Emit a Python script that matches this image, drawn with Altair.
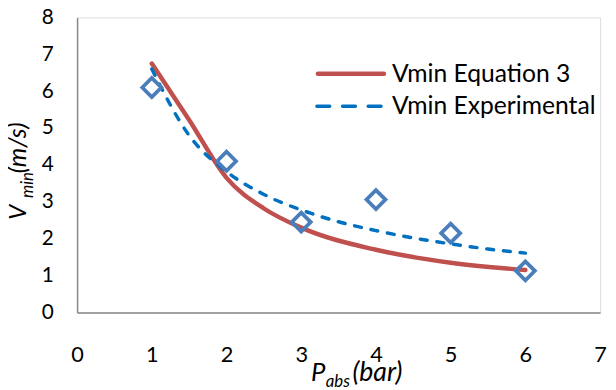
import altair as alt
import pandas as pd

# Data
eq3_p = [1, 1.5, 2, 2.5, 3, 4, 5, 6]
eq3_v = [6.75, 5.22, 3.65, 2.82, 2.3, 1.7, 1.35, 1.15]

exp_p = [1, 2, 3, 4, 5, 6]
exp_v = [6.1, 4.1, 2.45, 3.06, 2.15, 1.13]

trend_p = [1, 1.5, 2, 2.5, 3, 3.5, 4, 4.5, 5, 5.5, 6]
trend_v = [6.6, 4.8, 3.82, 3.2, 2.78, 2.46, 2.22, 2.02, 1.86, 1.72, 1.61]

x_ticks = [0, 1, 2, 3, 4, 5, 6, 7]
y_ticks = [0, 1, 2, 3, 4, 5, 6, 7, 8]

legend_labels = ["Vmin Equation 3", "Vmin Experimental"]

FONT = "Lato"
RED = "#C0504D"
BLUE_LINE = "#0070C0"
BLUE_MARK = "#4A7EBB"

W, H = 530, 299

df_eq = pd.DataFrame({"p": eq3_p, "v": eq3_v})
df_exp = pd.DataFrame({"p": exp_p, "v": exp_v})
df_tr = pd.DataFrame({"p": trend_p, "v": trend_v})

xs = alt.Scale(domain=[0, 7], nice=False, zero=False)
ys = alt.Scale(domain=[0, 8], nice=False, zero=False)

x_axis = alt.Axis(values=x_ticks, tickCount=8, format="d", title=None, grid=False,
                  ticks=False, tickSize=0,
                  labelPadding=33, labelFontSize=22, labelFont=FONT, labelColor="#000",
                  domainColor="#878787", domainWidth=1.5, labelFlush=False,
                  labelOverlap=False)
y_axis = alt.Axis(values=y_ticks, tickCount=9, format="d", title=None, grid=False,
                  ticks=False, tickSize=0,
                  labelPadding=24, labelFontSize=21, labelFont=FONT, labelColor="#000",
                  domainColor="#878787", domainWidth=1.5, labelOverlap=False,
                  labelFlush=False)

X = alt.X("p:Q", scale=xs, axis=x_axis)
Y = alt.Y("v:Q", scale=ys, axis=y_axis)

red = alt.Chart(df_eq).mark_line(color=RED, strokeWidth=4.5, interpolate="monotone",
                                 strokeCap="round").encode(x=X, y=Y)

trend = alt.Chart(df_tr).mark_line(color=BLUE_LINE, strokeWidth=3.5, strokeDash=[7, 10],
                                   interpolate="monotone", strokeCap="round").encode(x=X, y=Y)

pts = alt.Chart(df_exp).mark_point(shape="diamond", filled=False, color=BLUE_MARK,
                                   strokeWidth=3.8, size=370, opacity=1).encode(x=X, y=Y)

# Legend (manual)
leg_red = alt.Chart().mark_rule(color=RED, strokeWidth=4.5, strokeCap="round").encode(
    x=alt.value(244), x2=alt.value(311), y=alt.value(57))
leg_blue = alt.Chart().mark_rule(color=BLUE_LINE, strokeWidth=3.5, strokeDash=[13, 13],
                                 strokeCap="round").encode(
    x=alt.value(243), x2=alt.value(312), y=alt.value(90))
leg_t1 = alt.Chart().mark_text(text=legend_labels[0], align="left", baseline="middle",
                               font=FONT, fontSize=25, color="#000").encode(
    x=alt.value(319), y=alt.value(57))
leg_t2 = alt.Chart().mark_text(text=legend_labels[1], align="left", baseline="middle",
                               font=FONT, fontSize=25, color="#000").encode(
    x=alt.value(319), y=alt.value(90))

# Axis titles with subscripts
def txt(t, x, y, size, angle=0):
    return alt.Chart().mark_text(text=t, align="left", baseline="alphabetic", font=FONT,
                                 fontSize=size, fontStyle="italic", color="#000",
                                 angle=angle).encode(x=alt.value(x), y=alt.value(y))

xt1 = txt("P", 237, 368, 26)
xt2 = txt("abs", 252, 374, 17)
xt3 = txt("(bar)", 279, 368, 27)

yt1 = txt("V", -52, 205, 24, 270)
yt2 = txt("min", -45, 183, 17, 270)
yt3 = txt("(m/s)", -52, 158, 25, 270)

chart = alt.layer(red, trend, pts, leg_red, leg_blue, leg_t1, leg_t2,
                  xt1, xt2, xt3, yt1, yt2, yt3).properties(
    width=W, height=H,
    autosize=alt.AutoSizeParams(type="none"),
    padding={"left": 70, "top": 7, "right": 8, "bottom": 76},
).configure_view(stroke=None).configure(background="white")

chart.save("out.html", embed_options={"renderer": "svg", "actions": False})
